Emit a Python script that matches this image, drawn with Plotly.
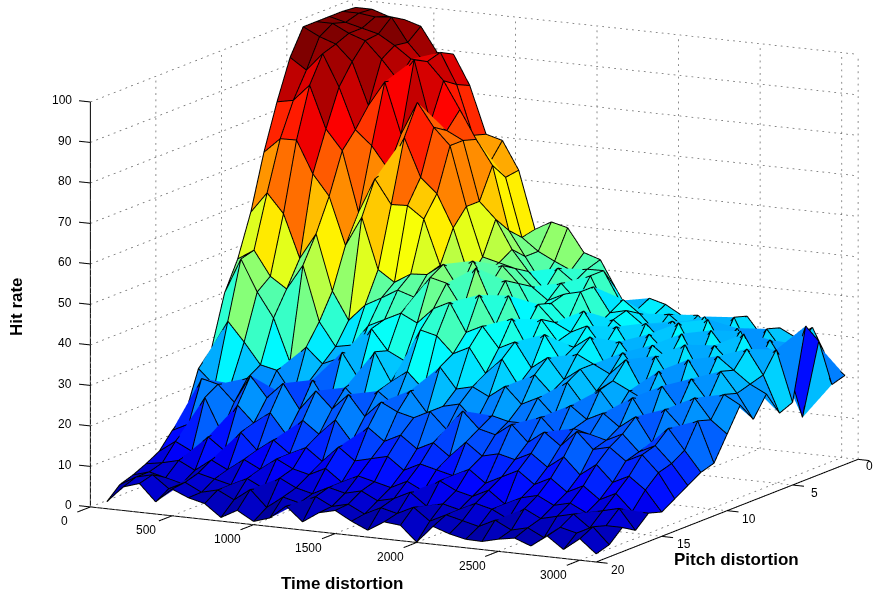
import plotly.graph_objects as go

time_values = [100*i for i in range(1, 32)]
pitch_values = list(range(1, 21))
time_ticks = [0, 500, 1000, 1500, 2000, 2500, 3000]
pitch_ticks = [0, 5, 10, 15, 20]
rate_ticks = [0, 10, 20, 30, 40, 50, 60, 70, 80, 90, 100]

p01 = [99.7,99.7,98.4,98,96.8,90.8,90.8,83.5,71.9,70.8,63.9,49.7,52,51,45.3,44,37,30.4,35.8,34.7,32.4,32.9,29,31.5,34,29,32,30,33,25,22]
p02 = [100,100,99.5,99.9,94.1,89.8,92.5,85,72.9,66.4,63.4,49,46,44,42.2,42.9,43,36,34,33,34,31,33,30,35,27,33,28,30,31,21]
p03 = [100,99,98,97,94.6,91.7,91.5,87.2,80.5,73.6,67.6,52,46,40,44,41,43,35,38,35,31,34,31,36,29,34,27,32,26,13.7,33]
p04 = [100,100,98,96.6,92.5,87.8,93.2,78.2,76.6,74.6,60,56,49,44,40,42,38,42,36,37,34,30,35,33,37,30,35,27,31,26,38]
p05 = [100,98,96.6,92.7,82.3,88.6,76.1,84.4,78.7,74.6,60,48,47,46,42,39,41,42,34,36,33,36,32,37,30,36,31,36,29,33,20.4]
p06 = [93.7,91,95.5,87.7,77.6,74.1,68.8,77,67.6,64,56,44,46,48,44,37,40,36,39,33,36,30,35,31,36,29,34,30,34,28,19]
p07 = [84,84.8,89,78.6,73.7,58.9,67.6,61.7,61.9,59,48,47,50,44,46,37,41,37,35,37,32,34,29,34,31,35,28,33,30,27,25]
p08 = [72.8,76.6,76.7,68.8,63.7,52,59.4,46.9,44.2,46.7,47,50,44,50,41,44,36,39,34,33,36,29,33,28,33,27,33,27,31,26,20]
p09 = [59.3,64.5,59.8,49.2,55.7,42,35.2,39.4,41.6,44,42.7,48,47,41,45,38,40,33,37,31,33,31,29,33,26,31,24,30,25,27,24.8]
p10 = [49,51.6,45.6,42.9,49.2,35.7,30,30.8,36,38,40,38,42,44,37,39,34,36,30,33,28,31,26,29,27,25,29,24,27,22,18.9]
p11 = [41.9,50.7,43,37,26.6,30.7,27,28.8,30,37,32,30,38,37,33,35,29,33,27,30,26,29,24,28,23,27,21,25,21,23,13]
p12 = [29.4,36.6,31.9,26.7,25.8,20,24,22,32,26,33,26,29,25,31,26,27,25,28,24,26,22,25,22,24,21,24,18,22,17,12]
p13 = [25.7,22,22.9,24.7,20,22,19,26,20,25,21,25,22,26,21,23,24,20,22,21,21,23,19,21,20,19,21,17,19,15,10]
p14 = [15.9,25,24,20,27,22,26,20,25,21,25,20,24,22,21,23,19,24,20,19,22,18,21,18,22,18,19,16,18,14,8]
p15 = [13,15,22,14,21,17,20,15,19,16,20,15,19,16,18,15,17,14,18,15,16,15,17,14,17,13,16,12,14,11,6]
p16 = [9.1,12,10,14,11,16,12,15,12,14,11,15,12,13,14,11,13,12,11,13,10,12,14,11,13,10,12,9,11,7,7]
p17 = [7.3,8,9,7,10,8,11,9,12,10,9,11,8,10,9,8,10,8,11,9,8,10,7,9,10,8,9,7,8,9,4]
p18 = [5.8,7,6,5,8,7,6,8,6,9,7,6,8,7,8,6,7,9,6,7,6,8,7,5,8,6,7,8,5,6,6]
p19 = [4.7,7,8,5,7,5,6,4,7,3,6,5,7,5,6,4,6,5,7,4,6,5,4,6,4,5,3,6,5,7,3]
p20 = [1.7,5.8,7.1,3,6.6,4.9,3.9,0.9,3.1,0.8,2.1,5.5,2,4.7,5.7,3.5,1.7,4.2,3.8,0.1,4.4,3,2.1,2,3,3.7,2.2,5.1,2.2,5.3,2]
rows = [p01,p02,p03,p04,p05,p06,p07,p08,p09,p10,p11,p12,p13,p14,p15,p16,p17,p18,p19,p20]

T_MIN, T_MAX = 0, 3100
FONT = "Liberation Sans"
SCALE = 2.135
X_RANGE = [-140.8, 3309.2]
Y_RANGE = [-27.16, 1]
Z_RANGE = [-6.03, 105.57]
ASPECT = (1*SCALE, 1.243*SCALE, 0.726*SCALE)
EYE = (0.912, -1.73, 0.413)

def jet(v):
    v = max(0.0, min(1.0, v))
    def c(x): return max(0.0, min(1.0, x))
    r = c(min(4*v-1.5, -4*v+4.5))
    g = c(min(4*v-0.5, -4*v+3.5))
    b = c(min(4*v+0.5, -4*v+2.5))
    return f"rgb({int(r*255)},{int(g*255)},{int(b*255)})"

nr, nc = len(pitch_values), len(time_values)
vx, vy, vz = [], [], []
for r in range(nr):
    for c in range(nc):
        vx.append(time_values[c]); vy.append(-pitch_values[r]); vz.append(rows[r][c])
ti, tj, tk, fc = [], [], [], []
for r in range(nr-1):
    for c in range(nc-1):
        a = r*nc+c; b = a+1; d = a+nc; e = d+1
        col = jet(rows[r][c]/100)
        ti += [a, b]; tj += [b, e]; tk += [d, d]; fc += [col, col]

fig = go.Figure()
fig.add_trace(go.Mesh3d(x=vx, y=vy, z=vz, i=ti, j=tj, k=tk, facecolor=fc, flatshading=True,
                        lighting=dict(ambient=1, diffuse=0, specular=0, roughness=1, fresnel=0),
                        hoverinfo="skip", showscale=False))

# mesh edges, each as its own piece, nudged toward the camera so they stay in front of the faces
norm = sum(v*v for v in EYE)**0.5
DEPTH = 0.02
ox = DEPTH*EYE[0]/norm/(ASPECT[0]/(X_RANGE[1]-X_RANGE[0]))
oy = DEPTH*EYE[1]/norm/(ASPECT[1]/(Y_RANGE[1]-Y_RANGE[0]))
oz = DEPTH*EYE[2]/norm/(ASPECT[2]/(Z_RANGE[1]-Z_RANGE[0]))
ex, ey, ez = [], [], []
def edge(r0, c0, r1, c1):
    ex.extend([time_values[c0]+ox, time_values[c1]+ox, None])
    ey.extend([-pitch_values[r0]+oy, -pitch_values[r1]+oy, None])
    ez.extend([rows[r0][c0]+oz, rows[r1][c1]+oz, None])
for r in range(nr):
    for c in range(nc):
        if c+1 < nc:
            edge(r, c, r, c+1)
        if r+1 < nr:
            edge(r, c, r+1, c)
fig.add_trace(go.Scatter3d(x=ex, y=ey, z=ez, mode="lines", line=dict(color="black", width=2), hoverinfo="skip", showlegend=False))

# dotted grid, drawn as short pieces
gx, gy, gz = [], [], []
def seg(a, b, n):
    for i in range(n):
        f0 = i/n; f1 = (i+0.3)/n
        gx.extend([a[0]+(b[0]-a[0])*f0, a[0]+(b[0]-a[0])*f1, None])
        gy.extend([-(a[1]+(b[1]-a[1])*f0), -(a[1]+(b[1]-a[1])*f1), None])
        gz.extend([a[2]+(b[2]-a[2])*f0, a[2]+(b[2]-a[2])*f1, None])
for z in rate_ticks[1:]:
    seg((T_MIN, 20, z), (T_MIN, 0, z), 45); seg((T_MIN, 0, z), (T_MAX, 0, z), 85)
for t in time_ticks:
    seg((t, 0, 0), (t, 0, 100), 65); seg((t, 20, 0), (t, 0, 0), 45)
seg((T_MAX, 0, 0), (T_MAX, 0, 100), 65)
for p in pitch_ticks:
    seg((T_MIN, p, 0), (T_MIN, p, 100), 65); seg((T_MIN, p, 0), (T_MAX, p, 0), 85)
fig.add_trace(go.Scatter3d(x=gx, y=gy, z=gz, mode="lines", line=dict(color="#666666", width=1.5), hoverinfo="skip", showlegend=False))

# solid axes and ticks
ax_x, ax_y, ax_z = [], [], []
def aseg(a, b):
    ax_x.extend([a[0], b[0], None]); ax_y.extend([-a[1], -b[1], None]); ax_z.extend([a[2], b[2], None])
aseg((T_MIN, 20, 0), (T_MIN, 20, 100))
aseg((T_MIN, 20, 0), (T_MAX, 20, 0))
aseg((T_MAX, 20, 0), (T_MAX, 0, 0))
for z in rate_ticks:
    aseg((T_MIN, 20, z), (T_MIN-70, 20, z))
for t in time_ticks:
    aseg((t, 20, 0), (t, 21, 0))
for p in pitch_ticks:
    aseg((T_MAX, p, 0), (T_MAX+70, p, 0))
fig.add_trace(go.Scatter3d(x=ax_x, y=ax_y, z=ax_z, mode="lines", line=dict(color="black", width=2), hoverinfo="skip", showlegend=False))

ann = []
tick_font = dict(family=FONT, size=12, color="black")
for z in rate_ticks:
    ann.append(dict(x=T_MIN-100, y=-20, z=z, text=str(z), showarrow=False, xanchor="right", font=tick_font))
for t in time_ticks:
    ann.append(dict(x=t, y=-22, z=-1, text=str(t), showarrow=False, font=tick_font))
for p in pitch_ticks:
    ann.append(dict(x=T_MAX+135 if p else T_MAX+70, y=-p, z=-1.4, text=str(p), showarrow=False, font=tick_font))

title_font = dict(family=FONT, size=17, color="black")
fig.update_layout(
    width=879, height=596, margin=dict(l=0, r=0, t=0, b=0), paper_bgcolor="white", showlegend=False,
    scene=dict(
        domain=dict(x=[0, 1], y=[0, 1]),
        xaxis=dict(visible=False, range=X_RANGE),
        yaxis=dict(visible=False, range=Y_RANGE),
        zaxis=dict(visible=False, range=Z_RANGE),
        aspectmode="manual", aspectratio=dict(x=ASPECT[0], y=ASPECT[1], z=ASPECT[2]),
        camera=dict(eye=dict(x=EYE[0], y=EYE[1], z=EYE[2]), up=dict(x=0, y=0, z=1), center=dict(x=0, y=0, z=0),
                    projection=dict(type="orthographic")),
        annotations=ann,
    ),
    annotations=[
        dict(x=342/879, y=1-583/596, xref="paper", yref="paper", xanchor="center", yanchor="middle", text="<b>Time distortion</b>", showarrow=False, font=title_font),
        dict(x=736/879, y=1-559/596, xref="paper", yref="paper", xanchor="center", yanchor="middle", text="<b>Pitch distortion</b>", showarrow=False, font=title_font),
        dict(x=16/879, y=1-307/596, xref="paper", yref="paper", xanchor="center", yanchor="middle", text="<b>Hit rate</b>", textangle=-90, showarrow=False, font=title_font),
    ],
)
fig.write_html("out.html", post_script="document.body.style.margin='0';", config=dict(displayModeBar=False))
